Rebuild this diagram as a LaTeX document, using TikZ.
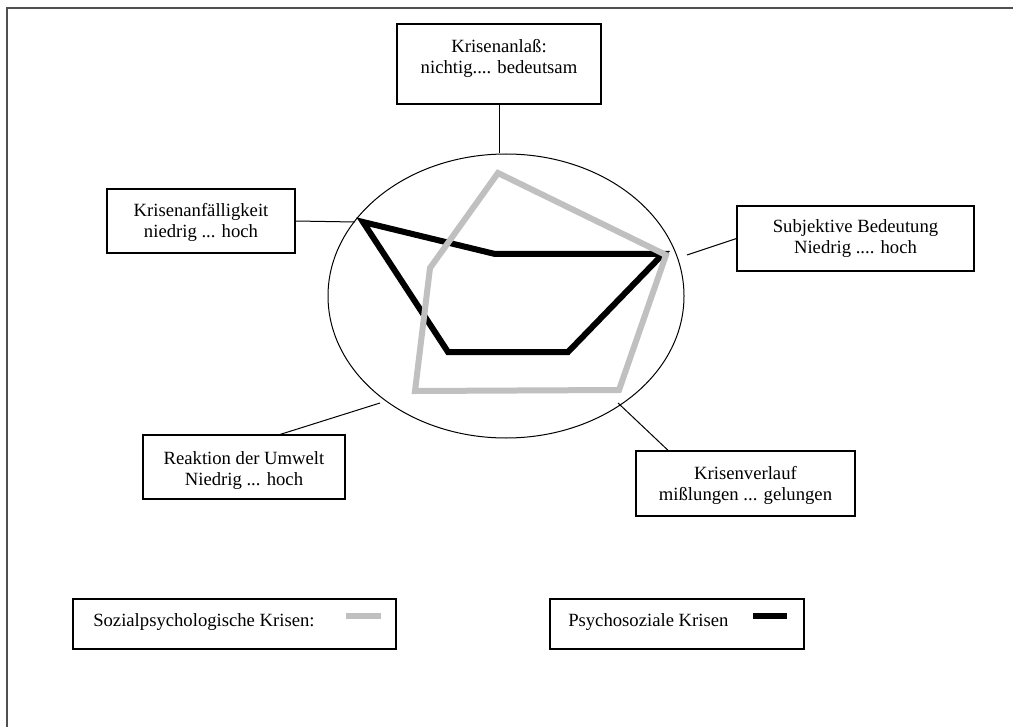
\documentclass[tikz,border=0pt]{standalone}
\usepackage{fontspec}
\setmainfont{Liberation Serif}
\usetikzlibrary{shapes.geometric}
\definecolor{framecol}{RGB}{80,80,80}
\definecolor{lightgreyline}{RGB}{192,192,192}
\tikzset{
  box/.style={draw=black, line width=0.8pt, rectangle, inner sep=0pt},
  lbl/.style={inner sep=0pt, align=center, font=\fontsize{14pt}{15.75pt}\selectfont},
  legtxt/.style={inner sep=0pt, font=\fontsize{14pt}{15.75pt}\selectfont},
  conn/.style={draw=black, line width=0.75pt},
  greypoly/.style={draw=lightgreyline, line width=4.5pt, line join=miter},
  blackpoly/.style={draw=black, line width=4.5pt, line join=miter}
}
\begin{document}
\begin{tikzpicture}[x=0.75pt, y=-0.75pt]
\useasboundingbox (0,0) rectangle (1013,727);
\fill[white] (0,0) rectangle (1013,727);
% frame
\draw[framecol, line width=1.5pt] (7,727) -- (7,8) -- (1013,8);

% ellipse
\node[ellipse, draw=black, line width=0.75pt, minimum width=267pt, minimum height=213pt, inner sep=0pt] (ell) at (506,296) {};

% boxes
\node[box, minimum width=153pt, minimum height=60pt] (k1) at (499,64) {};
\node[lbl, anchor=north] (k1t) at (499,39) {Krisenanlaß:\\nichtig.... bedeutsam};

\node[box, minimum width=141pt, minimum height=48pt] (k2) at (201,221) {};
\node[lbl, anchor=north] (k2t) at (201,203) {Krisenanfälligkeit\\niedrig ... hoch};

\node[box, minimum width=177.75pt, minimum height=48.75pt] (k3) at (855.5,238.5) {};
\node[lbl, anchor=north] (k3t) at (855.5,219) {Subjektive Bedeutung\\Niedrig .... hoch};

\node[box, minimum width=151.5pt, minimum height=48pt] (k4) at (244,467) {};
\node[lbl, anchor=north] (k4t) at (244,451) {Reaktion der Umwelt\\Niedrig ... hoch};

\node[box, minimum width=164.25pt, minimum height=48.75pt] (k5) at (745.5,483.5) {};
\node[lbl, anchor=north] (k5t) at (745.5,466) {Krisenverlauf\\mißlungen ... gelungen};

% connector free ends
\coordinate (e2) at (355,222);
\coordinate (e3) at (687,255);
\coordinate (e4) at (380,403);
\coordinate (e5) at (618,403);

\draw[conn] (k1.south) -- (k1.south |- ell.north);
\draw[conn] (k2.east) -- (e2);
\draw[conn] (k3.west) -- (e3);
\draw[conn] ([xshift=27pt]k4.north) -- (e4);
\draw[conn] ([xshift=-58pt]k5.north) -- (e5);

% profiles
\draw[blackpoly] (363,222) -- (495,254) -- (663,254) -- (568,352) -- (448,352) -- cycle;
\draw[greypoly] (498,173) -- (666,255) -- (619,390) -- (415,391) -- (430,268) -- cycle;

% legend
\node[box, minimum width=242.25pt, minimum height=37.5pt] (l1) at (234.5,624) {};
\node[legtxt, anchor=base west] (l1t) at (93,626) {Sozialpsychologische Krisen:};
\coordinate (g1) at (346,616);
\coordinate (g2) at (381,616);
\draw[draw=lightgreyline, line width=4pt] (g1) -- (g2);

\node[box, minimum width=190.5pt, minimum height=37.5pt] (l2) at (677,624) {};
\node[legtxt, anchor=base west] (l2t) at (568,626) {Psychosoziale Krisen};
\coordinate (b1) at (753,616);
\coordinate (b2) at (787,616);
\draw[draw=black, line width=4pt] (b1) -- (b2);
\end{tikzpicture}
\end{document}
